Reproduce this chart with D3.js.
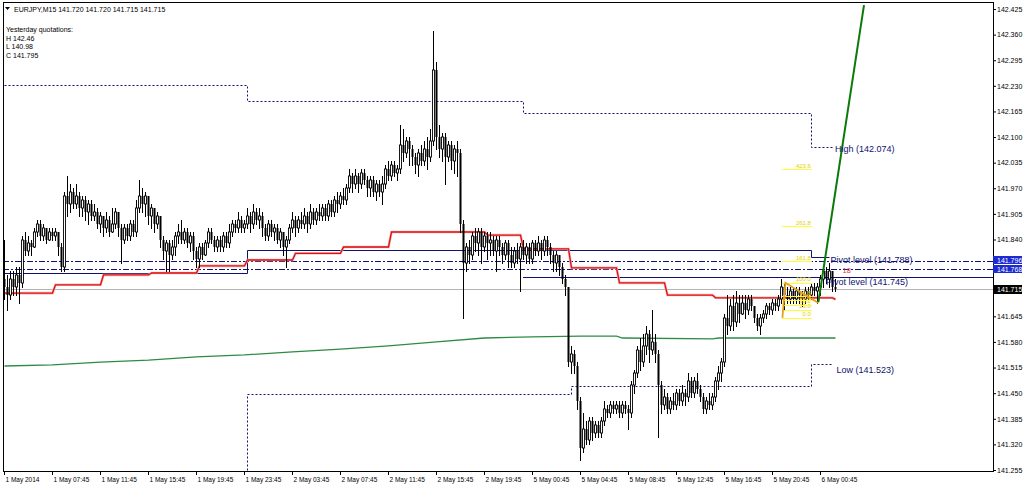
<!DOCTYPE html>
<html>
<head>
<meta charset="utf-8">
<style>
body { margin: 0; padding: 0; background: #fff; overflow: hidden; }
text { font-family: "Liberation Sans", Arial, sans-serif; }
.axis text { font-size: 7px; fill: #000; }
.axis line { stroke: #000; }
.axis path { display: none; }
.taxis text { font-size: 6.5px; }
</style>
</head>
<body>
<script src="https://cdn.jsdelivr.net/npm/d3@7/dist/d3.min.js"></script>
<script>
// EURJPY M15, 1 May - 6 May 2014 (bar index = one 15 min candle)
var closes = [
141.72,141.70,141.74,141.72,141.75,141.73,141.84,141.81,141.83,141.82,
141.86,141.88,141.85,141.87,141.84,141.86,141.85,141.86,141.82,141.77,
141.95,141.93,141.96,141.93,141.95,141.92,141.94,141.91,141.93,141.90,
141.91,141.88,141.90,141.87,141.89,141.86,141.88,141.91,141.87,141.84,
141.87,141.85,141.88,141.86,141.92,141.95,141.93,141.95,141.90,141.92,
141.88,141.90,141.84,141.81,141.83,141.80,141.82,141.85,141.86,141.84,
141.86,141.83,141.85,141.81,141.79,141.82,141.80,141.83,141.86,141.84,
141.82,141.84,141.82,141.85,141.83,141.86,141.88,141.87,141.89,141.87,
141.88,141.90,141.88,141.91,141.89,141.90,141.87,141.85,141.88,141.86,
141.87,141.84,141.86,141.82,141.84,141.87,141.89,141.87,141.89,141.88,
141.90,141.88,141.91,141.89,141.91,141.90,141.92,141.90,141.93,141.91,
141.94,141.93,141.95,141.94,141.97,142.00,141.98,142.00,141.98,142.01,
141.99,141.97,141.99,141.96,141.98,141.96,141.98,142.02,142.00,142.03,
142.01,142.02,142.08,142.06,142.09,142.07,142.05,142.03,142.06,142.04,
142.07,142.05,142.09,142.27,142.10,142.07,142.10,142.05,142.08,142.04,
142.07,142.06,141.88,141.78,141.82,141.80,141.85,141.83,141.86,141.82,
141.85,141.83,141.84,141.81,141.84,141.82,141.80,141.83,141.80,141.78,
141.81,141.79,141.82,141.80,141.82,141.79,141.83,141.81,141.83,141.81,
141.84,141.82,141.80,141.78,141.80,141.77,141.74,141.72,141.53,141.55,
141.52,141.43,141.31,141.36,141.33,141.38,141.35,141.37,141.35,141.38,
141.41,141.40,141.42,141.41,141.42,141.40,141.42,141.41,141.40,141.47,
141.50,141.56,141.53,141.57,141.60,141.56,141.58,141.55,141.47,141.42,
141.44,141.41,141.43,141.42,141.45,141.43,141.45,141.44,141.48,141.45,
141.48,141.46,141.44,141.41,141.43,141.42,141.44,141.48,141.50,141.53,
141.64,141.62,141.67,141.63,141.68,141.65,141.68,141.66,141.69,141.67,
141.64,141.62,141.64,141.65,141.67,141.66,141.68,141.67,141.69,141.72,
141.70,141.69,141.71,141.69,141.71,141.70,141.69,141.71,141.70,141.72,
141.71,141.72,141.74,141.76,141.74,141.76,141.72,141.715
];
var highs = [
141.84,141.75,141.76,141.76,141.77,141.77,141.85,141.86,141.85,141.84,
141.87,141.89,141.89,141.88,141.87,141.87,141.87,141.87,141.86,141.83,
141.96,142.00,141.98,141.97,141.98,141.96,141.95,141.95,141.94,141.94,
141.93,141.92,141.91,141.90,141.91,141.90,141.92,141.92,141.91,141.88,
141.88,141.88,141.89,141.89,141.94,141.99,141.97,141.96,141.95,141.93,
141.92,141.91,141.90,141.85,141.84,141.84,141.84,141.86,141.88,141.89,
141.87,141.87,141.86,141.86,141.82,141.83,141.83,141.84,141.87,141.87,
141.85,141.85,141.85,141.86,141.86,141.88,141.89,141.89,141.91,141.90,
141.89,141.92,141.91,141.93,141.92,141.92,141.91,141.88,141.89,141.89,
141.88,141.88,141.87,141.86,141.85,141.88,141.91,141.90,141.90,141.91,
141.92,141.91,141.93,141.92,141.92,141.93,141.93,141.93,141.94,141.94,
141.95,141.96,141.96,141.97,141.98,142.02,142.01,142.02,142.01,142.02,
142.02,142.00,142.00,142.00,141.99,141.99,142.00,142.03,142.04,142.04,
142.04,142.03,142.13,142.12,142.10,142.10,142.08,142.06,142.07,142.08,
142.09,142.10,142.12,142.37,142.29,142.13,142.11,142.11,142.09,142.09,
142.08,142.09,142.07,141.89,141.83,141.84,141.86,141.87,141.87,141.87,
141.86,141.86,141.86,141.85,141.85,141.85,141.83,141.84,141.84,141.82,
141.82,141.83,141.83,141.84,141.83,141.83,141.84,141.84,141.85,141.84,
141.85,141.85,141.83,141.81,141.81,141.80,141.78,141.75,141.72,141.57,
141.56,141.53,141.44,141.40,141.38,141.39,141.39,141.38,141.38,141.39,
141.43,141.42,141.43,141.43,141.43,141.43,141.43,141.43,141.42,141.48,
141.51,141.57,141.59,141.60,141.62,141.61,141.66,141.60,141.56,141.48,
141.46,141.45,141.44,141.45,141.46,141.46,141.47,141.46,141.50,141.49,
141.49,141.50,141.47,141.45,141.44,141.45,141.45,141.49,141.52,141.54,
141.65,141.70,141.69,141.70,141.71,141.70,141.70,141.70,141.70,141.70,
141.67,141.65,141.65,141.66,141.68,141.68,141.69,141.69,141.70,141.74,
141.73,141.72,141.72,141.72,141.72,141.72,141.71,141.72,141.72,141.73,
141.73,141.73,141.75,141.77,141.77,141.78,141.76,141.74
];
var lows = [
141.69,141.66,141.69,141.70,141.70,141.68,141.72,141.80,141.80,141.80,
141.82,141.85,141.84,141.84,141.83,141.84,141.84,141.84,141.80,141.76,
141.76,141.90,141.91,141.92,141.92,141.90,141.90,141.89,141.88,141.89,
141.89,141.87,141.86,141.85,141.86,141.85,141.86,141.87,141.85,141.78,
141.83,141.84,141.84,141.85,141.85,141.91,141.91,141.90,141.88,141.87,
141.86,141.87,141.82,141.79,141.76,141.76,141.79,141.80,141.83,141.83,
141.83,141.82,141.81,141.79,141.77,141.77,141.79,141.80,141.82,141.83,
141.81,141.81,141.81,141.81,141.82,141.82,141.85,141.86,141.86,141.86,
141.86,141.87,141.86,141.87,141.88,141.87,141.85,141.84,141.84,141.85,
141.84,141.83,141.82,141.80,141.77,141.83,141.86,141.85,141.86,141.87,
141.87,141.86,141.87,141.88,141.88,141.89,141.89,141.89,141.89,141.90,
141.90,141.91,141.92,141.93,141.93,141.96,141.96,141.97,141.96,141.97,
141.98,141.95,141.95,141.95,141.94,141.95,141.93,141.97,141.99,141.99,
142.00,141.99,142.01,142.04,142.05,142.03,142.03,142.01,142.00,142.03,
142.03,142.02,142.04,142.08,142.07,142.05,142.04,141.98,142.04,142.02,
142.01,142.00,141.86,141.64,141.76,141.78,141.79,141.81,141.80,141.78,
141.81,141.79,141.80,141.80,141.76,141.80,141.78,141.79,141.77,141.77,
141.77,141.78,141.71,141.79,141.78,141.78,141.78,141.80,141.80,141.79,
141.80,141.80,141.78,141.76,141.76,141.75,141.73,141.70,141.52,141.50,
141.50,141.41,141.28,141.30,141.32,141.32,141.33,141.34,141.34,141.34,
141.37,141.39,141.39,141.40,141.40,141.39,141.39,141.40,141.36,141.39,
141.45,141.49,141.51,141.52,141.55,141.53,141.55,141.53,141.34,141.40,
141.41,141.40,141.40,141.41,141.41,141.42,141.42,141.42,141.43,141.44,
141.44,141.45,141.43,141.40,141.40,141.41,141.41,141.43,141.46,141.48,
141.52,141.60,141.61,141.61,141.62,141.63,141.65,141.64,141.65,141.66,
141.63,141.61,141.60,141.63,141.64,141.65,141.65,141.66,141.66,141.68,
141.66,141.68,141.68,141.68,141.68,141.68,141.67,141.68,141.69,141.69,
141.70,141.68,141.70,141.72,141.73,141.72,141.71,141.71
];
var firstOpen = 141.74;

// time axis: one label every 16 bars
var timeLabels = ["1 May 2014", "1 May 07:45", "1 May 11:45", "1 May 15:45", "1 May 19:45",
    "1 May 23:45", "2 May 03:45", "2 May 07:45", "2 May 11:45", "2 May 15:45", "2 May 19:45",
    "5 May 00:45", "5 May 04:45", "5 May 08:45", "5 May 12:45", "5 May 16:45", "5 May 20:45",
    "6 May 00:45"];
var priceTicks = [142.425, 142.360, 142.295, 142.230, 142.165, 142.100, 142.035, 141.970,
    141.905, 141.840, 141.645, 141.580, 141.515, 141.450, 141.385, 141.320, 141.255];

// red step average: [start bar, price]
var redSteps = [[0, 141.704], [17, 141.725], [33, 141.750], [49, 141.755], [65, 141.773],
    [81, 141.788], [97, 141.805], [113, 141.821], [129, 141.859], [161, 141.851],
    [173, 141.816], [189, 141.768], [205, 141.730], [221, 141.699], [237, 141.692], [277, 141.688]];
// green slow average
var greenPts = [[0, 141.519], [16, 141.522], [32, 141.529], [48, 141.534], [64, 141.542],
    [80, 141.547], [96, 141.555], [112, 141.562], [128, 141.570], [144, 141.580],
    [160, 141.590], [176, 141.593], [192, 141.595], [204, 141.595], [206, 141.590],
    [236, 141.588], [238, 141.590], [277, 141.590]];
// daily high / low (dotted) and pivot (solid)
var highSteps = [[0, 142.232], [81, 142.192], [173, 142.161], [269, 142.075], [276, 142.075]];
var lowSteps = [[0, 141.10], [81, 141.448], [189, 141.468], [269, 141.523], [276, 141.523]];
var pivotSteps = [[0, 141.755], [81, 141.813], [269, 141.796], [275, 141.796]];
var pivotNow = 141.745, pivotNowStart = 173;
var hLines = [141.785, 141.764];
var hLineTags = ["141.796", "141.768"];
var lastPrice = 141.715;
// zigzag and fibo expansion
var zigzag = [[259.3, 141.641], [260.3, 141.730], [271.3, 141.679]];
var trendLine = [[271.3, 141.681], [286.5, 142.435]];
var fiboLow = 141.641, fiboHigh = 141.730, fiboFrom = 259.3, fiboTo = 269.3;
var fiboLevels = [0, 23.6, 38.2, 50, 61.8, 100, 161.8, 261.8, 423.6];

var pl = 3, pt = 2, pr = 993, pb = 471;

var svg = d3.select("body").append("svg")
    .attr("width", 1024)
    .attr("height", 486)
    .style("display", "block");

svg.append("rect").attr("width", 1024).attr("height", 486).attr("fill", "#fff");

svg.append("clipPath").attr("id", "plotclip")
    .append("rect")
    .attr("x", pl).attr("y", pt)
    .attr("width", pr - pl).attr("height", pb - pt);

var x = d3.scaleLinear().domain([0, 330]).range([4, 994]);
var y = d3.scaleLinear().domain([141.255, 142.425]).range([470, 9]);

var g = svg.append("g").attr("clip-path", "url(#plotclip)");

// horizontal reference lines
g.append("line")
    .attr("x1", pl).attr("x2", pr)
    .attr("y1", Math.round(y(lastPrice)) + 0.5).attr("y2", Math.round(y(lastPrice)) + 0.5)
    .attr("stroke", "#b4b4b4");

hLines.forEach(function(p) {
    g.append("line")
        .attr("x1", pl).attr("x2", pr)
        .attr("y1", Math.round(y(p)) + 0.5).attr("y2", Math.round(y(p)) + 0.5)
        .attr("stroke", "#101070")
        .attr("stroke-dasharray", "6,2,2,2");
});

g.append("line")
    .attr("x1", x(pivotNowStart)).attr("x2", pr)
    .attr("y1", Math.round(y(pivotNow)) + 0.5).attr("y2", Math.round(y(pivotNow)) + 0.5)
    .attr("stroke", "#101070");

var stepLine = d3.line()
    .x(function(d) { return x(d[0]) + 0.5; })
    .y(function(d) { return Math.round(y(d[1])) + 0.5; })
    .curve(d3.curveStepAfter);

g.append("path").datum(highSteps).attr("d", stepLine)
    .attr("fill", "none").attr("stroke", "#101070").attr("stroke-dasharray", "2,2");
g.append("path").datum(lowSteps).attr("d", stepLine)
    .attr("fill", "none").attr("stroke", "#101070").attr("stroke-dasharray", "2,2");
g.append("path").datum(pivotSteps).attr("d", stepLine)
    .attr("fill", "none").attr("stroke", "#101070");

var line = d3.line()
    .x(function(d) { return x(d[0]) + 0.5; })
    .y(function(d) { return y(d[1]); });

g.append("path").datum(greenPts).attr("d", line)
    .attr("fill", "none").attr("stroke", "#2e8b46").attr("stroke-width", 1.3);

// red line: flat blocks joined by one-bar slopes
var redPts = [];
redSteps.forEach(function(s, i) {
    redPts.push([s[0], s[1]]);
    if (i < redSteps.length - 1) redPts.push([redSteps[i + 1][0] - 1, s[1]]);
});
g.append("path").datum(redPts).attr("d", line)
    .attr("fill", "none").attr("stroke", "#f6b4b4").attr("stroke-width", 2.6);
g.append("path").datum(redPts).attr("d", line)
    .attr("fill", "none").attr("stroke", "#dd1010").attr("stroke-width", 1.3);

// candles
var bars = closes.map(function(c, i) {
    return { i: i, o: i ? closes[i - 1] : firstOpen, h: highs[i], l: lows[i], c: c };
});

var candle = g.append("g").selectAll("g").data(bars).join("g");
candle.append("line")
    .attr("x1", function(d) { return x(d.i) + 0.5; })
    .attr("x2", function(d) { return x(d.i) + 0.5; })
    .attr("y1", function(d) { return Math.round(y(d.h)); })
    .attr("y2", function(d) { return Math.round(y(d.l)) + 1; })
    .attr("stroke", "#000");
candle.append("rect")
    .attr("x", function(d) { return x(d.i) - 0.5; })
    .attr("width", 2)
    .attr("y", function(d) { return Math.round(y(Math.max(d.o, d.c))); })
    .attr("height", function(d) { return Math.max(1, Math.round(y(Math.min(d.o, d.c))) - Math.round(y(Math.max(d.o, d.c)))); })
    .attr("fill", function(d) { return d.c >= d.o ? "#fff" : "#000"; })
    .attr("stroke", function(d) { return d.c >= d.o ? "#000" : "none"; })
    .attr("stroke-width", 0.9);

// fibo expansion
var fibY = function(l) { return y(fiboLow + (fiboHigh - fiboLow) * l / 100); };
fiboLevels.forEach(function(l) {
    g.append("line")
        .attr("x1", x(fiboFrom)).attr("x2", x(fiboTo))
        .attr("y1", Math.round(fibY(l)) + 0.5).attr("y2", Math.round(fibY(l)) + 0.5)
        .attr("stroke", "#ffff30");
    g.append("text")
        .attr("x", x(fiboTo) - 1).attr("y", fibY(l) - 1.5)
        .attr("text-anchor", "end")
        .style("font-size", "6px")
        .attr("fill", "#e0d000")
        .text(l.toFixed(1));
});

g.append("path").datum(zigzag).attr("d", line)
    .attr("fill", "none").attr("stroke", "#e8a020").attr("stroke-width", 1.8);
g.append("path").datum(trendLine).attr("d", line)
    .attr("fill", "none").attr("stroke", "#0a7a0a").attr("stroke-width", 2);

// object labels
var labels = [
    { t: "High (142.074)", i: 277, p: 142.074, dy: 5, c: "#101070", s: 9 },
    { t: "Pivot level (141.788)", i: 275.5, p: 141.788, dy: 3.5, c: "#101070", s: 9 },
    { t: "18", i: 279.5, p: 141.766, dy: 4.5, c: "#e03050", s: 7.5 },
    { t: "Pivot level (141.745)", i: 274, p: 141.745, dy: 8, c: "#101070", s: 9 },
    { t: "Low (141.523)", i: 277.5, p: 141.523, dy: 9, c: "#101070", s: 9 }
];
labels.forEach(function(d) {
    g.append("text")
        .attr("x", x(d.i)).attr("y", y(d.p) + d.dy)
        .style("font-size", d.s + "px")
        .attr("fill", d.c)
        .text(d.t);
});

// frame
svg.append("rect")
    .attr("x", pl + 0.5).attr("y", pt + 0.5)
    .attr("width", pr - pl).attr("height", pb - pt)
    .attr("fill", "none").attr("stroke", "#000");

// price axis
var yAxis = d3.axisRight(y).tickValues(priceTicks).tickSize(3).tickPadding(1)
    .tickFormat(d3.format(".3f"));
svg.append("g").attr("class", "axis")
    .attr("transform", "translate(" + pr + ",0)")
    .call(yAxis);

// time axis
var xAxis = d3.axisBottom(x).tickValues(timeLabels.map(function(d, i) { return i * 16; }))
    .tickSize(4)
    .tickFormat(function(d) { return timeLabels[d / 16]; });
svg.append("g").attr("class", "axis taxis")
    .attr("transform", "translate(0," + pb + ")")
    .call(xAxis)
    .selectAll("text")
    .attr("x", 1)
    .attr("y", 6)
    .style("text-anchor", "start");

// price tags on the axis
hLines.forEach(function(p, i) {
    var yy = Math.round(y(p));
    svg.append("rect")
        .attr("x", pr).attr("y", yy - 4 + (i ? 0 : -1))
        .attr("width", 29).attr("height", 8)
        .attr("fill", "#1c2ad0");
    svg.append("text")
        .attr("x", pr + 4).attr("y", yy + 2.5 + (i ? 0 : -1))
        .style("font-size", "7px").attr("fill", "#fff")
        .text(hLineTags[i]);
});
var ly = Math.round(y(lastPrice));
svg.append("rect")
    .attr("x", pr).attr("y", ly - 4)
    .attr("width", 29).attr("height", 9)
    .attr("fill", "#000");
svg.append("text")
    .attr("x", pr + 4).attr("y", ly + 3)
    .style("font-size", "7px").attr("fill", "#fff")
    .text(d3.format(".3f")(lastPrice));

// header texts
svg.append("path").attr("d", "M5,7 L10,7 L7.5,10 Z").attr("fill", "#000");
svg.append("text").attr("x", 14).attr("y", 12)
    .style("font-size", "7px")
    .text("EURJPY,M15  141.720 141.720 141.715 141.715");
var info = ["Yesterday quotations:", "H 142.46", "L 140.98", "C 141.795"];
svg.selectAll(".info").data(info).join("text")
    .attr("class", "info")
    .attr("x", 6)
    .attr("y", function(d, i) { return 32 + i * 8.5; })
    .style("font-size", "7px")
    .text(function(d) { return d; });
</script>
</body>
</html>
